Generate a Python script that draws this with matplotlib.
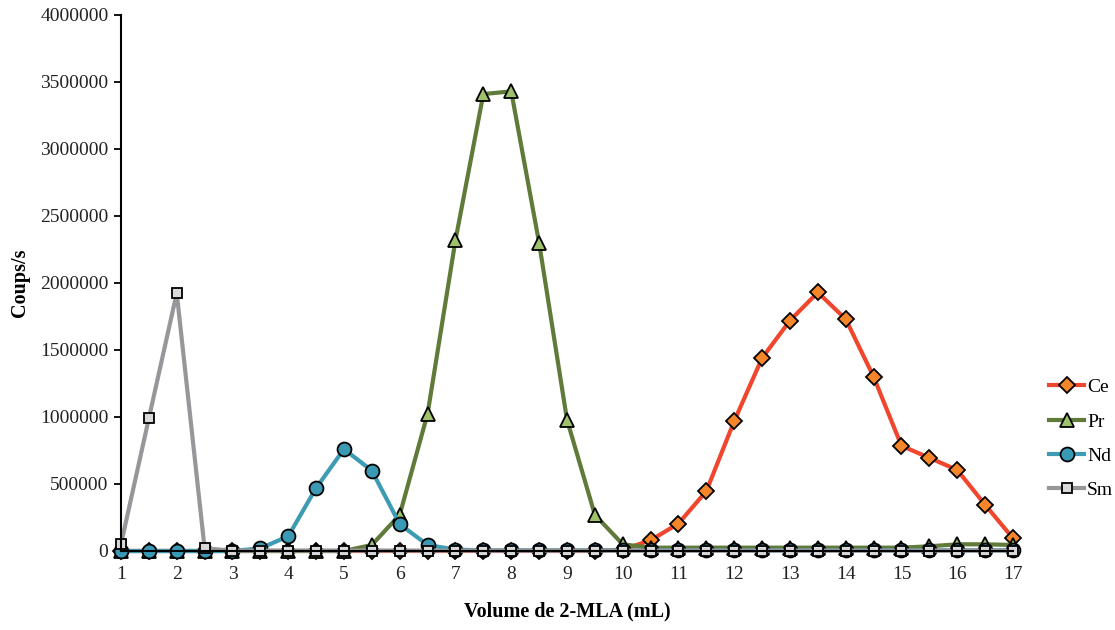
import matplotlib
matplotlib.use("Agg")
import matplotlib.pyplot as plt
from matplotlib.ticker import MultipleLocator, FuncFormatter

plt.rcParams['font.family'] = ['Liberation Serif', 'DejaVu Serif']

volume = [1, 1.5, 2, 2.5, 3, 3.5, 4, 4.5, 5, 5.5, 6, 6.5, 7, 7.5, 8, 8.5, 9, 9.5,
          10, 10.5, 11, 11.5, 12, 12.5, 13, 13.5, 14, 14.5, 15, 15.5, 16, 16.5, 17]

ce = [0, 0, 0, 0, 0, 0, 0, 0, 0, 0, 0, 0, 0, 0, 0, 0, 0, 0,
      10000, 80000, 205000, 447000, 970000, 1440000, 1720000, 1930000, 1730000,
      1300000, 785000, 695000, 605000, 345000, 95000]

pr = [0, 0, 0, 0, 0, 0, 0, 0, 0, 45000, 270000, 1025000, 2320000, 3410000, 3430000,
      2300000, 980000, 270000, 50000, 25000, 25000, 25000, 25000, 25000, 25000,
      25000, 25000, 25000, 25000, 35000, 50000, 50000, 45000]

nd = [0, 0, 0, 0, 0, 20000, 110000, 470000, 760000, 600000, 200000, 45000, 10000,
      5000, 5000, 5000, 5000, 5000, 5000, 5000, 5000, 5000, 5000, 5000, 5000,
      5000, 5000, 5000, 5000, 5000, 5000, 5000, 5000]

sm = [50000, 990000, 1925000, 20000, 3000, 3000, 3000, 3000, 3000, 3000, 3000,
      3000, 3000, 3000, 3000, 3000, 3000, 3000, 3000, 3000, 3000, 3000, 3000,
      3000, 3000, 3000, 3000, 3000, 3000, 3000, 3000, 3000, 3000]

series = [
    ("Ce", ce, "#F0462D", "#F5862A", "D", 8),
    ("Pr", pr, "#607A3A", "#9DC26B", "^", 10),
    ("Nd", nd, "#3D9BB3", "#3A9AB5", "o", 10),
    ("Sm", sm, "#97979B", "#D9D9D9", "s", 7.5),
]

fig = plt.figure(figsize=(11.15, 6.3), dpi=100)
ax = fig.add_axes([0.1085, 0.1254, 0.8, 0.8508])

handles = []
for name, vals, lc, mc, mk, ms in series:
    h, = ax.plot(volume, vals, color=lc, lw=3, marker=mk, markersize=ms,
                 markerfacecolor=mc, markeredgecolor="black", markeredgewidth=1.3,
                 label=name, clip_on=False)
    handles.append(h)

ax.set_xlim(1, 17)
ax.set_ylim(0, 4000000)
ax.xaxis.set_major_locator(MultipleLocator(1))
ax.yaxis.set_major_locator(MultipleLocator(500000))
ax.yaxis.set_major_formatter(FuncFormatter(lambda v, p: f"{int(v)}"))
ax.tick_params(axis='x', length=0, pad=11, labelsize=14, labelcolor='#222222')
ax.tick_params(axis='y', length=5, width=1.3, direction='out', labelsize=14,
               pad=4, labelcolor='#222222')
for s in ['top', 'right']:
    ax.spines[s].set_visible(False)
ax.spines['left'].set_linewidth(1.5)
ax.spines['bottom'].set_linewidth(1.5)

ax.set_xlabel("Volume de 2-MLA (mL)", fontsize=14.5, fontweight='bold', labelpad=13)
ax.set_ylabel("Coups/s", fontsize=14.5, fontweight='bold', labelpad=7)

leg = fig.legend(handles=handles, loc='upper left', bbox_to_anchor=(0.9411, 0.399),
                 frameon=False, fontsize=14, handlelength=1.8, handletextpad=0.15,
                 labelspacing=0.86, borderaxespad=0, borderpad=0)

fig.savefig("out.png", dpi=100)
